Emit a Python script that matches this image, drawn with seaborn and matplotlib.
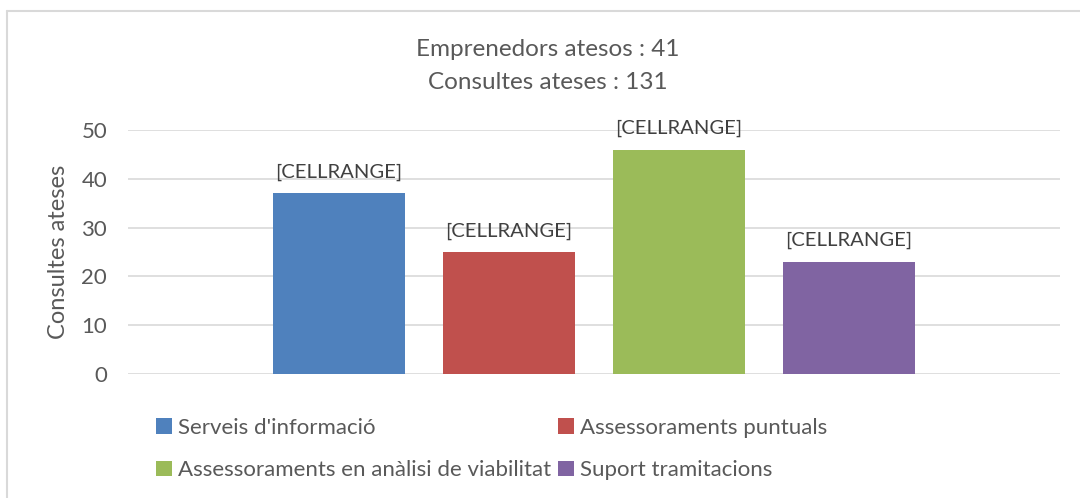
import matplotlib
matplotlib.use("Agg")
import matplotlib.pyplot as plt
from matplotlib.patches import Patch
import seaborn as sns

# dades
categories = ["Serveis d'informació", "Assessoraments puntuals",
              "Assessoraments en anàlisi de viabilitat", "Suport tramitacions"]
values = [37, 25, 46, 23]
colors = ["#4F81BD", "#C0504D", "#9BBB59", "#8064A2"]
bar_labels = ["[CELLRANGE]"] * 4
title_lines = ["Emprenedors atesos : 41", "Consultes ateses : 131"]
y_ticks = [0, 10, 20, 30, 40, 50]

sns.set_style("white")
plt.rcParams["font.family"] = ["Lato", "DejaVu Sans"]
text_col = "#595959"

fig = plt.figure(figsize=(10.8, 4.98), dpi=100)
ax = fig.add_axes([128 / 1080, 124 / 498, 932 / 1080, 244 / 498])

sns.barplot(x=categories, y=values, hue=categories, palette=colors,
            width=0.776, legend=False, ax=ax, saturation=1, linewidth=0)

for cont in ax.containers:
    ax.bar_label(cont, labels=bar_labels[:len(cont)], padding=9,
                 fontsize=14.6, color="#404040")

ax.set_xlim(-1.241, 4.241)
ax.set_ylim(0, 50)
ax.set_yticks(y_ticks)
ax.set_yticklabels([str(v) for v in y_ticks], fontsize=16, color=text_col)
ax.set_xticks([])
ax.set_xlabel("")
ax.set_ylabel("Consultes ateses", fontsize=17, color=text_col, labelpad=9)
ax.tick_params(axis="y", length=0, pad=15)
ax.yaxis.grid(True, color="#D9D9D9", linewidth=1.2)
ax.set_axisbelow(True)
for s in ax.spines.values():
    s.set_visible(False)

fig.text(548 / 1080, 1 - 50 / 498, title_lines[0], ha="center", va="center",
         fontsize=17.5, color=text_col)
fig.text(548 / 1080, 1 - 82 / 498, title_lines[1], ha="center", va="center",
         fontsize=17.5, color=text_col)

# ordre per files (ncol=2 omple per columnes)
order = [0, 2, 1, 3]
handles = [Patch(facecolor=colors[i], edgecolor="none") for i in order]
labels = [categories[i] for i in order]
fig.legend(handles, labels, loc="upper left", ncol=2,
           bbox_to_anchor=(156 / 1080, 1 - 418 / 498), frameon=False,
           fontsize=16, handlelength=0.7, handleheight=0.7,
           handletextpad=0.3, columnspacing=0.3, labelspacing=1.0,
           borderpad=0, borderaxespad=0, labelcolor=text_col)

# vora del gràfic
fig.add_artist(plt.Line2D([7 / 1080, 1], [1 - 11 / 498, 1 - 11 / 498],
                          color="#D9D9D9", linewidth=1.5, transform=fig.transFigure))
fig.add_artist(plt.Line2D([7 / 1080, 7 / 1080], [0, 1 - 11 / 498],
                          color="#D9D9D9", linewidth=1.5, transform=fig.transFigure))

fig.savefig("out.png", dpi=100)
